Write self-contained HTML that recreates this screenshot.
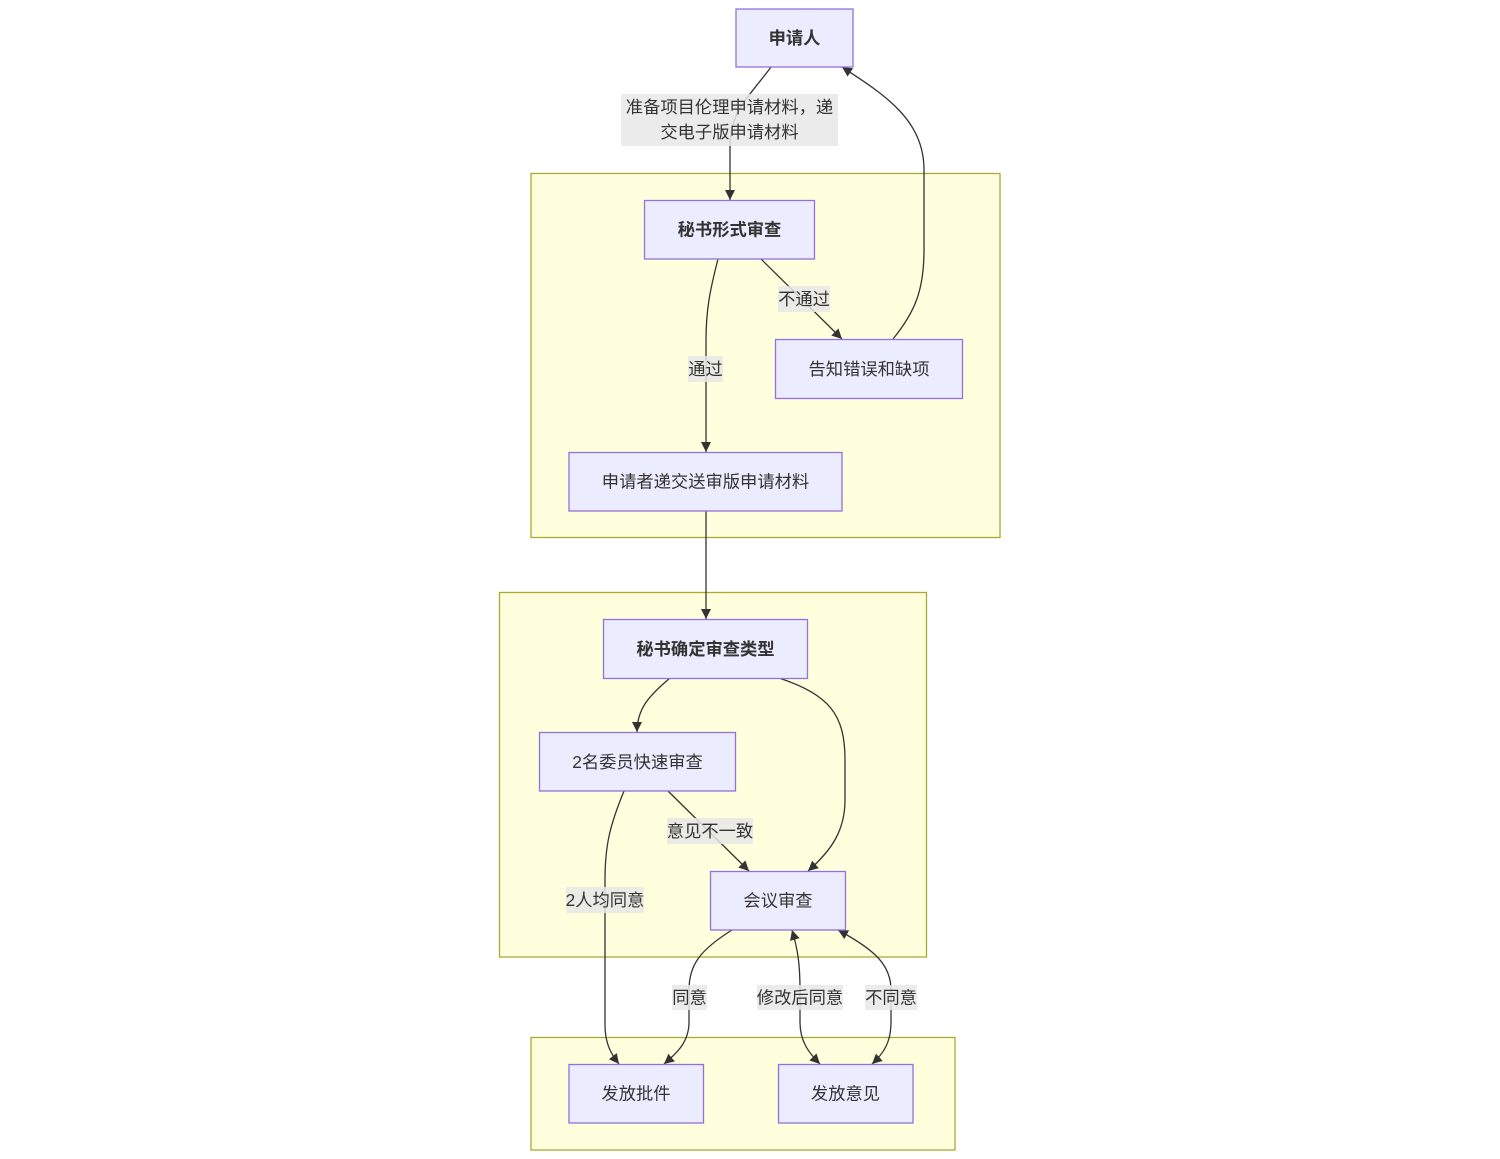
<!DOCTYPE html>
<html>
<head>
<meta charset="utf-8">
<style>
  html, body { margin: 0; padding: 0; background: #ffffff; }
  body { width: 1500px; height: 1159px; overflow: hidden; }
  svg { display: block; }
  text { font-family: "Liberation Sans", "Noto Sans CJK SC", sans-serif; font-size: 17.3px; fill: #333333; }
  .b { font-weight: bold; }
  .node { fill: #ECECFF; stroke: #9370DB; stroke-width: 1.3; }
  .cluster { fill: #FFFFDE; stroke: #AAAA33; stroke-width: 1.3; }
  .edge { fill: none; stroke: #333333; stroke-width: 1.3; }
  .lbl { fill: #e8e8e8; fill-opacity: 0.85; }
</style>
</head>
<body>
<svg width="1500" height="1159" viewBox="0 0 1500 1159" xmlns="http://www.w3.org/2000/svg">
  <defs>
    <marker id="arr" viewBox="0 0 10 10" refX="10" refY="5" markerWidth="10" markerHeight="10" markerUnits="userSpaceOnUse" orient="auto-start-reverse">
      <path d="M0,0 L10,5 L0,10 z" fill="#333333"/>
    </marker>
  </defs>

  <!-- clusters -->
  <rect class="cluster" x="531" y="173.5" width="469" height="364"/>
  <rect class="cluster" x="499.5" y="592.5" width="427" height="364.5"/>
  <rect class="cluster" x="531" y="1037.5" width="424" height="112.5"/>

  <!-- edges -->
  <path class="edge" d="M771,67 C760,82 748,95 740,108 C732,122 730,135 730,150 L730,200" marker-end="url(#arr)"/>
  <path class="edge" d="M893,339 C915,312 924,290 924,250 L924,170 C924,120 885,95 842,67" marker-end="url(#arr)"/>
  <path class="edge" d="M718,259 C710,290 706,310 706,340 L706,452" marker-end="url(#arr)"/>
  <path class="edge" d="M761,259 L842,339" marker-end="url(#arr)"/>
  <path class="edge" d="M706,511 L706,619" marker-end="url(#arr)"/>
  <path class="edge" d="M670,678 C650,695 637,708 637,732" marker-end="url(#arr)"/>
  <path class="edge" d="M779,678 C830,695 845,715 845,760 L845,800 C845,830 832,850 808,871" marker-end="url(#arr)"/>
  <path class="edge" d="M668,791 L749,871" marker-end="url(#arr)"/>
  <path class="edge" d="M624,791 C610,825 605,845 605,880 L605,1025 C605,1045 612,1055 619,1064" marker-end="url(#arr)"/>
  <path class="edge" d="M732,930 C700,950 689,965 689,990 L689,1022 C689,1042 677,1053 664,1064" marker-end="url(#arr)"/>
  <path class="edge" d="M792,930 C798,950 800,965 800,990 L800,1022 C800,1042 809,1053 820,1064" marker-start="url(#arr)" marker-end="url(#arr)"/>
  <path class="edge" d="M838,930 C875,950 891,965 891,990 L891,1022 C891,1042 884,1053 872,1064" marker-start="url(#arr)" marker-end="url(#arr)"/>

  <!-- edge labels -->
  <rect class="lbl" x="621" y="94" width="217" height="52"/>
  <text x="729.5" y="107" text-anchor="middle" dominant-baseline="central">准备项目伦理申请材料，递</text>
  <text x="729.5" y="132" text-anchor="middle" dominant-baseline="central">交电子版申请材料</text>

  <rect class="lbl" x="778" y="286" width="52" height="26"/>
  <text x="804" y="299" text-anchor="middle" dominant-baseline="central">不通过</text>

  <rect class="lbl" x="688" y="356" width="35" height="26"/>
  <text x="705.5" y="369" text-anchor="middle" dominant-baseline="central">通过</text>

  <rect class="lbl" x="667" y="818" width="86" height="26"/>
  <text x="710" y="831" text-anchor="middle" dominant-baseline="central">意见不一致</text>

  <rect class="lbl" x="566" y="887" width="78" height="26"/>
  <text x="605" y="900" text-anchor="middle" dominant-baseline="central">2人均同意</text>

  <rect class="lbl" x="672" y="985" width="35" height="25"/>
  <text x="689.5" y="997.5" text-anchor="middle" dominant-baseline="central">同意</text>

  <rect class="lbl" x="757" y="985" width="86" height="25"/>
  <text x="800" y="997.5" text-anchor="middle" dominant-baseline="central">修改后同意</text>

  <rect class="lbl" x="865" y="985" width="52" height="25"/>
  <text x="891" y="997.5" text-anchor="middle" dominant-baseline="central">不同意</text>

  <!-- nodes -->
  <rect class="node" x="736" y="9" width="117" height="58"/>
  <text class="b" x="794.5" y="38" text-anchor="middle" dominant-baseline="central">申请人</text>

  <rect class="node" x="644.5" y="200.5" width="170" height="58.5"/>
  <text class="b" x="729.5" y="229.5" text-anchor="middle" dominant-baseline="central">秘书形式审查</text>

  <rect class="node" x="775.5" y="339.5" width="187" height="59"/>
  <text x="869" y="369" text-anchor="middle" dominant-baseline="central">告知错误和缺项</text>

  <rect class="node" x="569" y="452.5" width="273" height="58.5"/>
  <text x="705.5" y="481.5" text-anchor="middle" dominant-baseline="central">申请者递交送审版申请材料</text>

  <rect class="node" x="603.5" y="619.5" width="204" height="59"/>
  <text class="b" x="705.5" y="649" text-anchor="middle" dominant-baseline="central">秘书确定审查类型</text>

  <rect class="node" x="539.5" y="732.5" width="196" height="58.5"/>
  <text x="637.5" y="762" text-anchor="middle" dominant-baseline="central">2名委员快速审查</text>

  <rect class="node" x="710.5" y="871.5" width="135" height="58.5"/>
  <text x="778" y="900.5" text-anchor="middle" dominant-baseline="central">会议审查</text>

  <rect class="node" x="569" y="1064.5" width="134.5" height="58.5"/>
  <text x="636" y="1093.5" text-anchor="middle" dominant-baseline="central">发放批件</text>

  <rect class="node" x="778.5" y="1064.5" width="134.5" height="58.5"/>
  <text x="845.5" y="1093.5" text-anchor="middle" dominant-baseline="central">发放意见</text>
</svg>
</body>
</html>
